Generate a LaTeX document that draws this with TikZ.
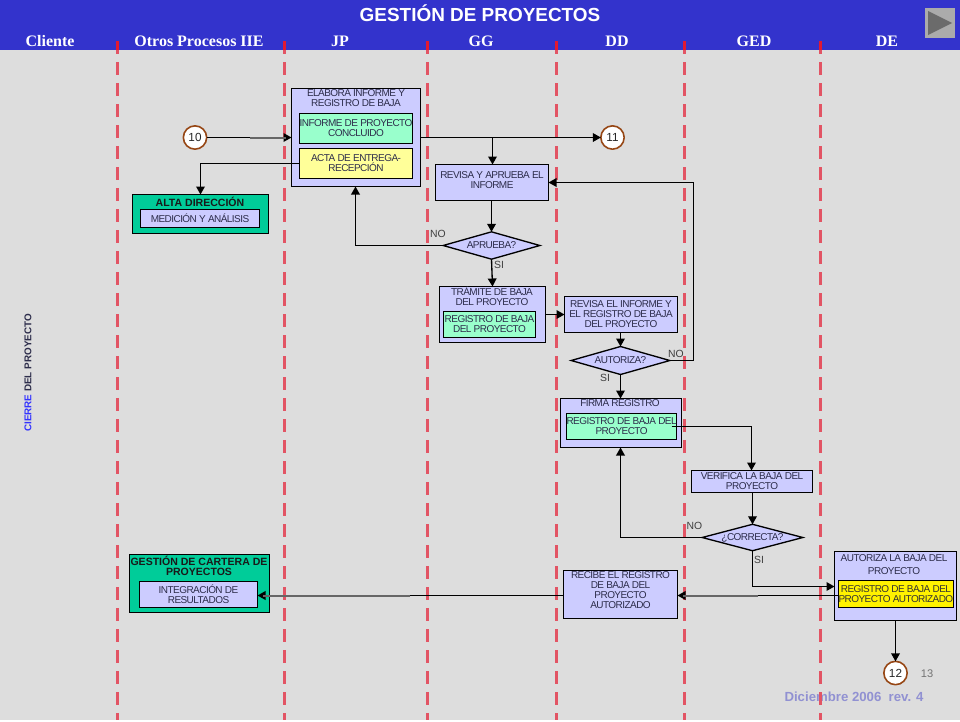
\documentclass[tikz,border=0pt]{standalone}
\usepackage{fontspec}
\setmainfont{Liberation Sans}
\newfontfamily\timesbold{Liberation Serif}
\newfontfamily\cajafont[LetterSpace=-5.5]{Liberation Sans}
\usetikzlibrary{arrows.meta,shapes.geometric}
\definecolor{banda}{RGB}{51,51,204}
\definecolor{fondo}{RGB}{221,221,221}
\definecolor{lila}{RGB}{204,204,255}
\definecolor{menta}{RGB}{153,255,204}
\definecolor{crema}{RGB}{255,255,153}
\definecolor{verdeo}{RGB}{0,204,153}
\definecolor{rojo}{RGB}{226,84,100}
\definecolor{rojofuerte}{RGB}{225,25,50}
\definecolor{tinta}{RGB}{45,45,75}
\definecolor{rev}{RGB}{145,145,210}
\definecolor{borde}{RGB}{150,70,20}

% box between two corners, given as x1,y1,x2,y2 in picture pixels
\newcommand{\caja}[7][]{%
  \node[base, #1, minimum width=#4*0.75pt-#2*0.75pt, minimum height=#5*0.75pt-#3*0.75pt, anchor=north west] (#6) at (#2,#3) {#7};}

\begin{document}
\begin{tikzpicture}[
    x=0.75pt, y=-0.75pt,
    base/.style={draw=black, line width=1pt, inner sep=0pt, outer sep=0pt, align=center, text=tinta, font=\cajafont\fontsize{7.5}{7.5}\selectfont},
    proceso/.style={fill=lila},
    docverde/.style={fill=menta},
    docamarillo/.style={fill=crema},
    docfuerte/.style={fill=yellow, text=black!80},
    externo/.style={fill=verdeo},
    decision/.style={draw=black, line width=1pt, fill=lila, diamond, aspect=3.5, inner sep=0pt, outer sep=0pt, text=tinta, font=\cajafont\fontsize{7.5}{7.5}\selectfont},
    conector/.style={draw=borde, line width=1.2pt, fill=white, circle, minimum size=17.5pt, inner sep=0pt, outer sep=0pt, font=\fontsize{8.8}{8.8}\selectfont, text=black!85},
    etiqueta/.style={font=\fontsize{7.8}{7.8}\selectfont, text=black!75, inner sep=0pt},
    titulocaja/.style={inner sep=0pt, align=center, text=tinta, font=\cajafont\fontsize{7.5}{7.5}\selectfont},
    tituloverde/.style={inner sep=0pt, align=center, text=black!90, font=\bfseries\fontsize{7.9}{7.5}\selectfont},
    carril/.style={font=\timesbold\bfseries\fontsize{12}{12}\selectfont, text=white, inner sep=0pt},
    limite/.style={draw=rojo, line width=2.3pt, dash pattern=on 9.5pt off 6.25pt},
    arr/.style={-{Triangle[length=6pt,width=6.5pt]}, line width=1pt},
    refuerzo/.style={line width=1.5pt, black!60, shorten >=4pt},
]
% Background and header
\fill[fondo] (0,0) rectangle (960,720);
\fill[banda] (0,0) rectangle (960,50);
\node[font=\bfseries\fontsize{14.2}{14.2}\selectfont, text=white, inner sep=0pt] (titulo) at (480,13.5) {GESTIÓN DE PROYECTOS};

% Lane names
\node[carril] (cliente) at (50,41) {Cliente};
\node[carril] (otros) at (199,41) {Otros Procesos IIE};
\node[carril] (jp) at (340,41) {JP};
\node[carril] (gg) at (481,41) {GG};
\node[carril] (dd) at (617,41) {DD};
\node[carril] (ged) at (754,41) {GED};
\node[carril] (de) at (887,41) {DE};

% Footer
\node[inner sep=0pt, font=\fontsize{8.3}{8.3}\selectfont, text=black!55] (pagina) at (927,674) {13};
\node[inner sep=0pt, font=\bfseries\fontsize{9.9}{9.9}\selectfont, text=rev] (fecha) at (854,697) {Diciembre 2006\ \ rev. 4};

% Lane limits
\foreach \xl in {117.5,284.5,427.5,556.5,684.5,820.5} {
  \draw[limite] (\xl,41) -- (\xl,720);
  \draw[rojofuerte, line width=2.3pt] (\xl,41) -- (\xl,50);
}

% Play button
\fill[black!33] (925,8) rectangle (955,38);
\fill[black!58] (928,11) -- (952,23) -- (928,35) -- cycle;

% Vertical title
\node[rotate=90, inner sep=0pt, font=\bfseries\fontsize{7.4}{7.4}\selectfont, text=tinta] (fase) at (28,373) {\textcolor{blue!80!white}{CIERRE} DEL PROYECTO};

% JP
\caja[proceso]{291.5}{88.5}{420.5}{186.5}{elabora}{}
\node[titulocaja] (elaboratxt) at (356,98) {ELABORA INFORME Y\\REGISTRO DE BAJA};
\caja[docverde]{299.5}{113.5}{412.5}{143.5}{informe}{INFORME DE PROYECTO\\CONCLUIDO}
\caja[docamarillo]{299.5}{148.5}{412.5}{178.5}{acta}{ACTA DE ENTREGA-\\RECEPCIÓN}

% Otros procesos
\caja[externo]{132.5}{194.5}{268.5}{233.5}{alta}{}
\node[tituloverde] (altatxt) at (200,201.5) {ALTA DIRECCIÓN};
\caja[proceso]{140.5}{209.5}{259.5}{227.5}{medicion}{MEDICIÓN Y ANÁLISIS}
\caja[externo]{129.5}{554.5}{269.5}{612.5}{cartera}{}
\node[tituloverde] (carteratxt) at (199,566) {GESTIÓN DE CARTERA DE\\PROYECTOS};
\caja[proceso]{139.5}{581.5}{257.5}{607.5}{integracion}{INTEGRACIÓN DE\\RESULTADOS}

% GG
\caja[proceso]{435.5}{164.5}{548.5}{200.5}{revisa}{}
\node[titulocaja] (revisatxt) at (492,180.5) {REVISA Y APRUEBA EL\\INFORME};
\node[decision, minimum width=72.5pt, minimum height=20.5pt] (aprueba) at (491.5,245.5) {APRUEBA?};
\caja[proceso]{439.5}{286.5}{545.5}{342.5}{tramite}{}
\node[titulocaja] (tramitetxt) at (492,296) {TRÁMITE DE BAJA\\DEL PROYECTO};
\caja[docverde]{443.5}{311.5}{535.5}{337.5}{regtramite}{REGISTRO DE BAJA\\DEL PROYECTO}

% DD
\caja[proceso]{564.5}{296.5}{677.5}{332.5}{revisadd}{REVISA EL INFORME  Y\\EL REGISTRO DE BAJA\\DEL PROYECTO}
\node[decision, minimum width=74pt, minimum height=21pt] (autoriza) at (620.5,360.5) {AUTORIZA?};
\caja[proceso]{560.5}{398.5}{681.5}{447.5}{firma}{}
\node[titulocaja] (firmatxt) at (620,403) {FIRMA REGISTRO};
\caja[docverde]{566.5}{413.5}{671.5}{439.5}{regfirma}{REGISTRO DE BAJA DEL\\PROYECTO}
\caja[proceso]{563.5}{570.5}{677.5}{618.5}{recibe}{}
\node[titulocaja] (recibetxt) at (620.5,590.5) {RECIBE EL REGISTRO\\DE BAJA DEL\\PROYECTO\\AUTORIZADO};

% GED
\caja[proceso]{691.5}{470.5}{812.5}{492.5}{verifica}{VERIFICA LA BAJA  DEL\\PROYECTO}
\node[decision, minimum width=75.5pt, minimum height=18.5pt] (correcta) at (752.5,537.5) {¿CORRECTA?};

% DE
\caja[proceso]{834.5}{551.5}{956.5}{620.5}{autorizade}{}
\node[titulocaja, font=\cajafont\fontsize{7.5}{9.8}\selectfont] (autorizatxt) at (894,565) {AUTORIZA  LA BAJA DEL\\PROYECTO};
\caja[docfuerte]{838.5}{580.5}{951.5}{607.5}{regde}{REGISTRO DE BAJA DEL\\PROYECTO AUTORIZADO}

% Off-page connectors
\node[conector] (c10) at (195,137.5) {10};
\node[conector] (c11) at (612.5,137.5) {11};
\node[conector] (c12) at (895.5,673) {12};

% Bends
\coordinate (tg) at (492.5,137.5);
\coordinate (codo) at (693.5,182.5);
\coordinate (codoelabora) at (355.5,186.5);
\coordinate (codocorrecta) at (620.5,447.5);
\coordinate (salidafirma) at (671.5,426.5);
\coordinate (codofirma) at (751.5,426.5);
\coordinate (entradade) at (834.5,586.5);
\coordinate (salidade) at (838.5,595.5);
\coordinate (entradarec) at (677.5,595.5);
\coordinate (salidarec) at (563.5,595.5);
\coordinate (entradaint) at (257.5,595.5);
\coordinate (tramitesal) at (545.5,314.5);
\coordinate (revisadden) at (564.5,314.5);
\coordinate (refa) at (250,137.5);
\coordinate (refb) at (410,595.5);
\coordinate (refc) at (758,595.5);

% Connections
\draw[arr] (c10) -- (elabora.west);
\draw[arr] (elabora.east) -- (c11);
\draw[arr] (tg) -- (revisa.north -| tg);
\draw[arr] (acta.west) -| (alta.north);
\draw[arr] (revisa.south -| aprueba) -- (aprueba.north);
\draw[arr] (aprueba.west) -| (codoelabora);
\draw[arr] (aprueba.south) -- (tramite.north);
\draw[arr] (tramitesal) -- (revisadden);
\draw[arr] (revisadd.south -| autoriza) -- (autoriza.north);
\draw[arr] (autoriza.east) -| (codo) -- (revisa.east);
\draw[arr] (autoriza.south) -- (firma.north -| autoriza);
\draw[arr] (salidafirma) -- (codofirma) -- (verifica.north -| codofirma);
\draw[arr] (verifica.south -| correcta) -- (correcta.north);
\draw[arr] (correcta.west) -| (codocorrecta);
\draw[arr] (correcta.south) |- (entradade);
\draw[arr] (salidade) -- (entradarec);
\draw[arr] (salidarec) -- (entradaint);
\draw[arr] (autorizade.south) -- (c12);

% Heavier runs
\draw[refuerzo] (refa) -- (elabora.west);
\draw[refuerzo] (refb) -- (entradaint);
\draw[refuerzo] (refc) -- (entradarec);

% Branch labels
\node[etiqueta] (no1) at (438,234) {NO};
\node[etiqueta] (si1) at (499,265) {SI};
\node[etiqueta] (no2) at (676,354) {NO};
\node[etiqueta] (si2) at (605,378) {SI};
\node[etiqueta] (no3) at (694.5,526) {NO};
\node[etiqueta] (si3) at (759,560) {SI};
\end{tikzpicture}
\end{document}
